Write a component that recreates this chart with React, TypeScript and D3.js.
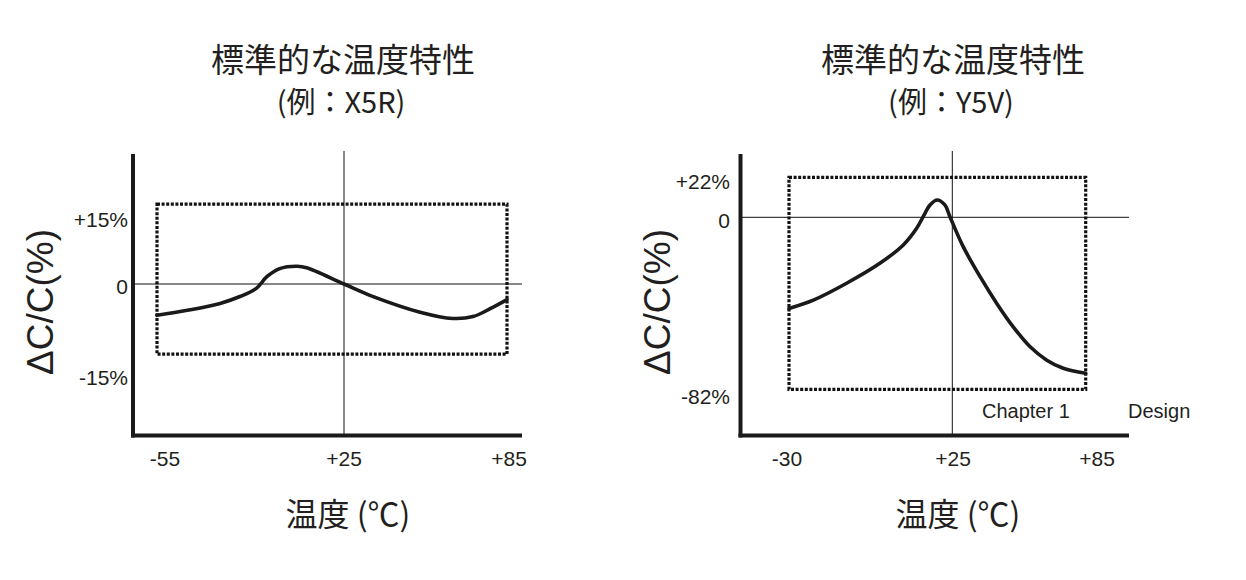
import React from 'react';
import * as d3 from 'd3';

// X5R (left panel)
const x5rTemps = [-55, -42, -28, -19.5, -12.5, -8, -2.5, 5, 9, 25, 36, 53, 65, 72.5, 79, 85];
const x5rDelta = [-5.0, -4.2, -3.1, -2.0, -0.7, 1.7, 3.6, 4.15, 3.8, 0, -2.05, -4.5, -5.5, -5.2, -3.9, -2.5];
const x5rXTicks = [-55, 25, 85];
const x5rXTickLabels = ['-55', '+25', '+85'];
const x5rYTicks = [15, 0, -15];
const x5rYTickLabels = ['+15%', '0', '-15%'];
const x5rSpec = { tMin: -55, tMax: 85, dMin: -11.2, dMax: 18.7 };

// Y5V (right panel)
const y5vTemps = [-30, -21.8, -10.6, 0.6, 8.5, 13, 15.2, 17.5, 19.9, 22.5, 24.2, 29.9, 37.5, 45, 52.4, 60, 67.5, 74.9, 85];
const y5vDelta = [-41.6, -37.8, -30.1, -21.0, -12.6, -5.0, 0.4, 7.7, 10.8, 7.7, 0.4, -13.4, -27.1, -39.3, -50, -59.1, -65.2, -68.9, -71.2];
const y5vXTicks = [-30, 25, 85];
const y5vXTickLabels = ['-30', '+25', '+85'];
const y5vYTicks = [22, 0, -82];
const y5vYTickLabels = ['+22%', '0', '-82%'];
const y5vSpec = { tMin: -30, tMax: 85, dMin: -78.5, dMax: 24.9 };

const TEXT = '#231f20';
const LATIN = '"Liberation Sans", Arial, sans-serif';
const CJK = '"Noto Sans CJK JP", "Noto Sans", sans-serif';

type PanelProps = {
  title2: string;
  temps: number[];
  delta: number[];
  xTicks: number[];
  xTickLabels: string[];
  xLabelPos: number[];
  yTicks: number[];
  yTickLabels: string[];
  spec: { tMin: number; tMax: number; dMin: number; dMax: number };
  xDomain: number[];
  xRange: number[];
  yDomain: number[];
  yRange: number[];
  axisX: number;
  axisRight: number;
  cx: number;
  yTitleX: number;
  tickRight: number;
};

const Panel = (p: PanelProps) => {
  const x = d3.scaleLinear().domain(p.xDomain).range(p.xRange);
  const y = d3.scaleLinear().domain(p.yDomain).range(p.yRange);
  const top = 154;
  const bottom = 435.5;
  const line = d3
    .line<number>()
    .x((_, i) => x(p.temps[i]))
    .y((d) => y(d))
    .curve(d3.curveCatmullRom.alpha(0.5));

  const rx0 = x(p.spec.tMin);
  const rx1 = x(p.spec.tMax);
  const ry0 = y(p.spec.dMax);
  const ry1 = y(p.spec.dMin);

  return (
    <g>
      <text x={p.cx} y={72} textAnchor="middle" fontFamily={CJK} fontSize={33} fill={TEXT}>
        標準的な温度特性
      </text>
      <text x={p.cx - 2} y={113} textAnchor="middle" fontFamily={CJK} fontSize={29} fill={TEXT}>
        {p.title2}
      </text>

      {/* thin reference lines */}
      <line x1={x(25)} x2={x(25)} y1={151} y2={bottom} stroke="#111" strokeWidth={1} />
      <line x1={p.axisX} x2={p.axisRight} y1={y(0)} y2={y(0)} stroke="#111" strokeWidth={1} />

      {/* spec box */}
      <rect
        x={rx0}
        y={ry0}
        width={rx1 - rx0}
        height={ry1 - ry0}
        fill="none"
        stroke="#111"
        strokeWidth={3.2}
        strokeDasharray="3,1.6"
      />

      <path d={line(p.delta) || ''} fill="none" stroke="#1a1a1a" strokeWidth={3.6} strokeLinecap="round" />

      {/* axes */}
      <line x1={p.axisX} x2={p.axisX} y1={top} y2={bottom + 2} stroke="#1a1a1a" strokeWidth={4} />
      <line x1={p.axisX - 2} x2={p.axisRight} y1={bottom} y2={bottom} stroke="#1a1a1a" strokeWidth={4} />

      {p.xTicks.map((t, i) => (
        <text
          key={'xt' + t}
          x={p.xLabelPos[i]}
          y={459}
          dy="0.35em"
          textAnchor="middle"
          fontFamily={LATIN}
          fontSize={21}
          fill={TEXT}
        >
          {p.xTickLabels[i]}
        </text>
      ))}
      {p.yTicks.map((t, i) => (
        <text
          key={'yt' + t}
          x={p.tickRight}
          y={y(t) + (t === 0 ? 3 : 0)}
          dy="0.35em"
          textAnchor="end"
          fontFamily={LATIN}
          fontSize={21}
          fill={TEXT}
        >
          {p.yTickLabels[i]}
        </text>
      ))}

      <text
        transform={`translate(${p.yTitleX},302) rotate(-90)`}
        dy="0.35em"
        textAnchor="middle"
        fontFamily={LATIN}
        fontSize={37}
        fill={TEXT}
      >
        ΔC/C(%)
      </text>

      <text x={p.cx + 5} y={526} textAnchor="middle" fontFamily={CJK} fontSize={32} fill={TEXT}>
        温度 (℃)
      </text>
    </g>
  );
};

export default function App() {
  return (
    <svg width={1246} height={580} style={{ position: 'absolute', left: 0, top: 0, background: '#fff' }}>
      <Panel
        title2="(例：X5R)"
        temps={x5rTemps}
        delta={x5rDelta}
        xTicks={x5rXTicks}
        xTickLabels={x5rXTickLabels}
        xLabelPos={[165, 344, 509]}
        yTicks={x5rYTicks}
        yTickLabels={x5rYTickLabels}
        spec={x5rSpec}
        xDomain={[-55, 25, 85]}
        xRange={[157, 344, 507]}
        yDomain={[-15, 0, 15]}
        yRange={[378, 284, 220]}
        axisX={133}
        axisRight={522}
        cx={343}
        yTitleX={40}
        tickRight={128}
      />
      <Panel
        title2="(例：Y5V)"
        temps={y5vTemps}
        delta={y5vDelta}
        xTicks={y5vXTicks}
        xTickLabels={y5vXTickLabels}
        xLabelPos={[787, 953, 1097]}
        yTicks={y5vYTicks}
        yTickLabels={y5vYTickLabels}
        spec={y5vSpec}
        xDomain={[-30, 25, 85]}
        xRange={[789, 952.3, 1085.7]}
        yDomain={[-82, 0, 22]}
        yRange={[397, 217.3, 182]}
        axisX={740.5}
        axisRight={1129}
        cx={953}
        yTitleX={657}
        tickRight={730}
      />
      <text x={982} y={411} dy="0.35em" fontFamily={LATIN} fontSize={20} fill={TEXT}>
        Chapter 1
      </text>
      <text x={1128} y={411} dy="0.35em" fontFamily={LATIN} fontSize={20} fill={TEXT}>
        Design
      </text>
    </svg>
  );
}
